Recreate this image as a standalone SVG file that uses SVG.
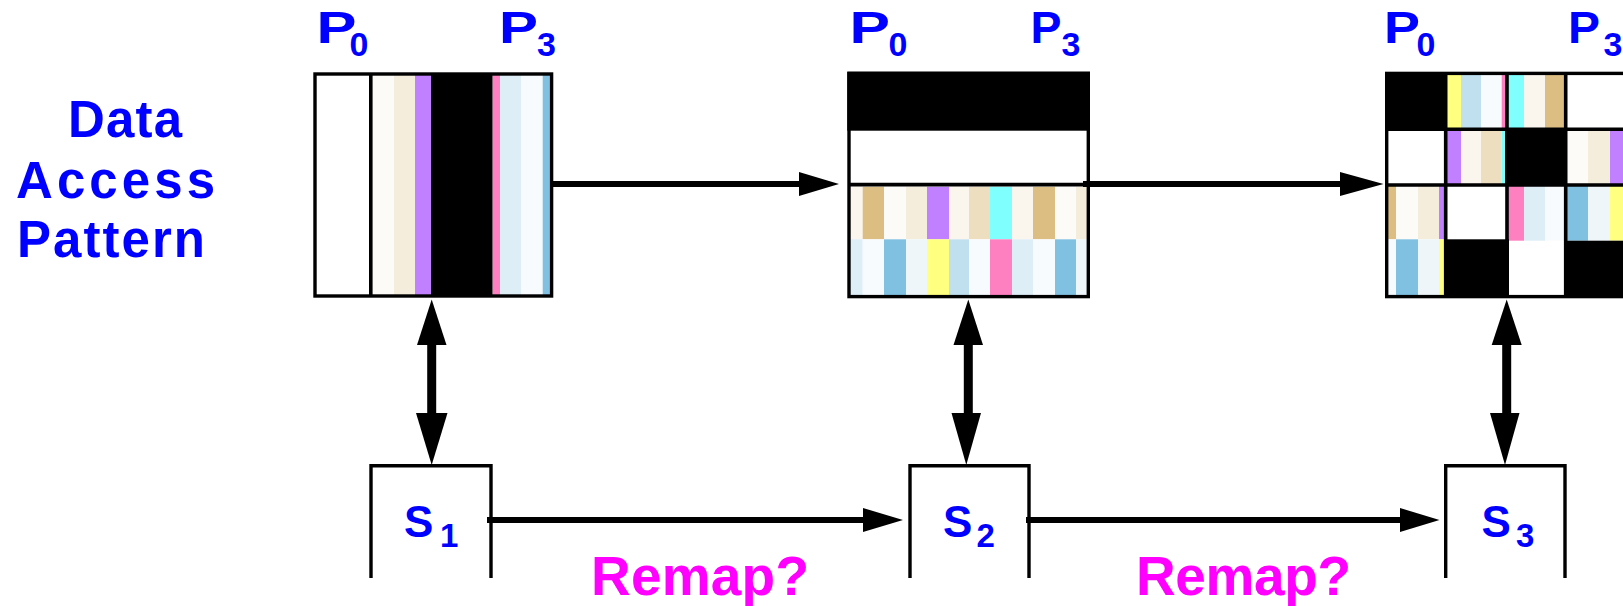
<svg xmlns="http://www.w3.org/2000/svg" width="1623" height="606" viewBox="0 0 1623 606">
  <style>
    .lbl { font-family: "Liberation Sans", Arial, sans-serif; font-weight: bold; fill: #0000ff; }
    .remap { font-family: "Liberation Sans", Arial, sans-serif; font-weight: bold; fill: #ff00ff; font-size: 55px; }
    .frame { fill: none; stroke: #000; stroke-width: 3.4; }
    .shaft { stroke: #000; stroke-width: 6; fill: none; }
    .vshaft { stroke: #000; stroke-width: 9; fill: none; }
    .head { fill: #000; }
    .k { fill: #000; }
    .c1 { fill: #fdfbf8; } .c2 { fill: #f5eddc; } .c3 { fill: #c080ff; }
    .c4 { fill: #ff80c0; } .c5 { fill: #ddeef7; } .c6 { fill: #f8fbfe; }
    .c7 { fill: #80c0e0; } .c8 { fill: #faf6ee; } .c9 { fill: #dcbe82; }
    .c10 { fill: #eedec0; } .c11 { fill: #80ffff; } .c12 { fill: #eef6fa; }
    .c13 { fill: #ffff80; } .c14 { fill: #c0e0f0; }
  </style>
  <rect width="1623" height="606" fill="#fff"/>

  <!-- side caption -->
  <g id="caption">
    <text class="lbl" font-size="51" x="68" y="136.7" textLength="114" lengthAdjust="spacing">Data</text>
    <text class="lbl" font-size="51" x="16" y="198" textLength="199" lengthAdjust="spacing">Access</text>
    <text class="lbl" font-size="51" x="17" y="256.7" textLength="188" lengthAdjust="spacing">Pattern</text>
  </g>

  <!-- pattern 1: column stripes -->
  <g id="pattern1">
    <rect class="c1" x="372.7" y="74" width="21.3" height="222"/>
    <rect class="c2" x="394" y="74" width="21" height="222"/>
    <rect class="c3" x="415" y="74" width="16" height="222"/>
    <rect class="k" x="431" y="74" width="61.7" height="222"/>
    <rect class="c4" x="492.7" y="74" width="7.3" height="222"/>
    <rect class="c5" x="500" y="74" width="21" height="222"/>
    <rect class="c6" x="521" y="74" width="21.7" height="222"/>
    <rect class="c7" x="542.7" y="74" width="8.6" height="222"/>
    <rect class="frame" x="315" y="74" width="236.6" height="222"/>
    <line x1="370.8" y1="74" x2="370.8" y2="296" stroke="#000" stroke-width="3.6"/>
    <text class="lbl" font-size="44" x="316.5" y="43.3" textLength="40" lengthAdjust="spacingAndGlyphs">P</text>
    <text class="lbl" font-size="34" x="349.5" y="56">0</text>
    <text class="lbl" font-size="44" x="499" y="43.3" textLength="39" lengthAdjust="spacingAndGlyphs">P</text>
    <text class="lbl" font-size="34" x="537" y="56">3</text>
  </g>

  <!-- pattern 2: row bands -->
  <g id="pattern2">
    <rect class="k" x="847.3" y="71.7" width="242.7" height="59"/>
    <!-- upper colour row -->
    <rect class="c8" x="850" y="186.7" width="12.7" height="52.6"/>
    <rect class="c9" x="862.7" y="186.7" width="21.3" height="52.6"/>
    <rect class="c1" x="884" y="186.7" width="22" height="52.6"/>
    <rect class="c2" x="906" y="186.7" width="21" height="52.6"/>
    <rect class="c3" x="927" y="186.7" width="22" height="52.6"/>
    <rect class="c8" x="949" y="186.7" width="20" height="52.6"/>
    <rect class="c10" x="969" y="186.7" width="21" height="52.6"/>
    <rect class="c11" x="990" y="186.7" width="22" height="52.6"/>
    <rect class="c8" x="1012" y="186.7" width="21" height="52.6"/>
    <rect class="c9" x="1033" y="186.7" width="22" height="52.6"/>
    <rect class="c1" x="1055" y="186.7" width="21" height="52.6"/>
    <rect class="c2" x="1076" y="186.7" width="11.6" height="52.6"/>
    <!-- lower colour row -->
    <rect class="c5" x="850" y="239.3" width="12.7" height="56"/>
    <rect class="c6" x="862.7" y="239.3" width="21.3" height="56"/>
    <rect class="c7" x="884" y="239.3" width="22" height="56"/>
    <rect class="c12" x="906" y="239.3" width="21" height="56"/>
    <rect class="c13" x="927" y="239.3" width="22" height="56"/>
    <rect class="c14" x="949" y="239.3" width="20" height="56"/>
    <rect class="c6" x="969" y="239.3" width="21" height="56"/>
    <rect class="c4" x="990" y="239.3" width="22" height="56"/>
    <rect class="c5" x="1012" y="239.3" width="21" height="56"/>
    <rect class="c6" x="1033" y="239.3" width="22" height="56"/>
    <rect class="c7" x="1055" y="239.3" width="21" height="56"/>
    <rect class="c12" x="1076" y="239.3" width="11.6" height="56"/>
    <rect class="frame" x="849" y="73.4" width="239.3" height="223.2"/>
    <line x1="849" y1="184.7" x2="1088.3" y2="184.7" stroke="#000" stroke-width="3.8"/>
    <text class="lbl" font-size="44" x="849.5" y="43.3" textLength="40.5" lengthAdjust="spacingAndGlyphs">P</text>
    <text class="lbl" font-size="34" x="888.5" y="56">0</text>
    <text class="lbl" font-size="44" x="1030.5" y="43.3" textLength="31" lengthAdjust="spacingAndGlyphs">P</text>
    <text class="lbl" font-size="34" x="1061.5" y="56">3</text>
  </g>

  <!-- pattern 3: block grid -->
  <g id="pattern3">
    <!-- row A -->
    <rect class="k" x="1386.7" y="73.4" width="59" height="55.8"/>
    <rect class="c13" x="1447" y="73.4" width="14" height="55.8"/>
    <rect class="c14" x="1461" y="73.4" width="20" height="55.8"/>
    <rect class="c6" x="1481" y="73.4" width="20.7" height="55.8"/>
    <rect class="c4" x="1501.7" y="73.4" width="4" height="55.8"/>
    <rect class="c11" x="1508" y="73.4" width="16" height="55.8"/>
    <rect class="c8" x="1524" y="73.4" width="21" height="55.8"/>
    <rect class="c9" x="1545" y="73.4" width="20" height="55.8"/>
    <!-- row B -->
    <rect class="c3" x="1447" y="129.2" width="14" height="55.8"/>
    <rect class="c8" x="1461" y="129.2" width="20" height="55.8"/>
    <rect class="c10" x="1481" y="129.2" width="20.7" height="55.8"/>
    <rect class="c11" x="1501.7" y="129.2" width="4" height="55.8"/>
    <rect class="k" x="1505" y="129.2" width="62" height="55.8"/>
    <rect class="c1" x="1567" y="129.2" width="21" height="55.8"/>
    <rect class="c2" x="1588" y="129.2" width="22" height="55.8"/>
    <rect class="c3" x="1610" y="129.2" width="13" height="55.8"/>
    <!-- row C, upper half -->
    <rect class="c9" x="1386.7" y="185" width="9.3" height="54.3"/>
    <rect class="c1" x="1396" y="185" width="22" height="54.3"/>
    <rect class="c2" x="1418" y="185" width="21" height="54.3"/>
    <rect class="c3" x="1439" y="185" width="6" height="54.3"/>
    <rect class="c4" x="1508" y="185" width="16" height="55.7"/>
    <rect class="c5" x="1524" y="185" width="21" height="55.7"/>
    <rect class="c6" x="1545" y="185" width="20" height="55.7"/>
    <rect class="c7" x="1566" y="185" width="22" height="55.7"/>
    <rect class="c12" x="1588" y="185" width="22" height="55.7"/>
    <rect class="c13" x="1610" y="185" width="13" height="55.7"/>
    <!-- row C, lower half -->
    <rect class="c6" x="1386.7" y="239.3" width="9.3" height="57.3"/>
    <rect class="c7" x="1396" y="239.3" width="22" height="57.3"/>
    <rect class="c12" x="1418" y="239.3" width="21" height="57.3"/>
    <rect class="c13" x="1439" y="239.3" width="6" height="57.3"/>
    <rect class="k" x="1444" y="239.3" width="65" height="57.3"/>
    <rect class="k" x="1564" y="240.7" width="59" height="55.9"/>
    <!-- grid -->
    <rect class="frame" x="1386.7" y="73.4" width="260" height="223.2"/>
    <path d="M1445.7,73.4V296.6M1507,73.4V296.6M1565.7,73.4V296.6M1386.7,129.2H1623M1386.7,185H1623" stroke="#000" stroke-width="3.6" fill="none"/>
    <text class="lbl" font-size="44" x="1384" y="43.3" textLength="36" lengthAdjust="spacingAndGlyphs">P</text>
    <text class="lbl" font-size="34" x="1416.5" y="56">0</text>
    <text class="lbl" font-size="44" x="1568" y="43.3" textLength="32" lengthAdjust="spacingAndGlyphs">P</text>
    <text class="lbl" font-size="34" x="1603.5" y="56">3</text>
  </g>

  <!-- schedule boxes (open at the bottom) -->
  <g id="s1">
    <path class="frame" d="M371,578V465.7H491V578"/>
    <text class="lbl" font-size="44" x="404" y="537">S</text>
    <text class="lbl" font-size="33" x="440" y="547">1</text>
  </g>
  <g id="s2">
    <path class="frame" d="M910,578V465.7H1029V578"/>
    <text class="lbl" font-size="44" x="943" y="537">S</text>
    <text class="lbl" font-size="33" x="976.5" y="547">2</text>
  </g>
  <g id="s3">
    <path class="frame" d="M1445.7,578V465.7H1565V578"/>
    <text class="lbl" font-size="44" x="1481.5" y="537">S</text>
    <text class="lbl" font-size="33" x="1516" y="547">3</text>
  </g>

  <g id="remap-labels">
    <text class="remap" x="591" y="595" textLength="218" lengthAdjust="spacing">Remap?</text>
    <text class="remap" x="1136" y="595" textLength="215" lengthAdjust="spacing">Remap?</text>
  </g>

  <!-- connectors -->
  <g id="connectors">
    <!-- pattern to pattern -->
    <line class="shaft" x1="553" y1="184" x2="801" y2="184"/>
    <polygon class="head" points="799,172 839,184 799,196"/>
    <line class="shaft" x1="1083" y1="184" x2="1342" y2="184"/>
    <polygon class="head" points="1340,172 1383.5,184 1340,196"/>
    <!-- schedule to schedule -->
    <line class="shaft" x1="487" y1="520" x2="865" y2="520"/>
    <polygon class="head" points="863,508 903,520 863,532"/>
    <line class="shaft" x1="1026" y1="520" x2="1402" y2="520"/>
    <polygon class="head" points="1400,508 1439.5,520 1400,532"/>
    <!-- pattern <-> schedule -->
    <line class="vshaft" x1="431.7" y1="344" x2="431.7" y2="414"/>
    <polygon class="head" points="431.7,299.5 446.5,345 417,345"/>
    <polygon class="head" points="416,413 447.5,413 431.7,465"/>
    <line class="vshaft" x1="968.3" y1="344" x2="968.3" y2="414"/>
    <polygon class="head" points="968.3,299.5 983,345 953.5,345"/>
    <polygon class="head" points="951.5,413 981,413 966.3,465"/>
    <line class="vshaft" x1="1506.7" y1="344" x2="1506.7" y2="414"/>
    <polygon class="head" points="1506.7,299.5 1521.7,345 1491.7,345"/>
    <polygon class="head" points="1490,413 1519.5,413 1505,465"/>
  </g>
</svg>
